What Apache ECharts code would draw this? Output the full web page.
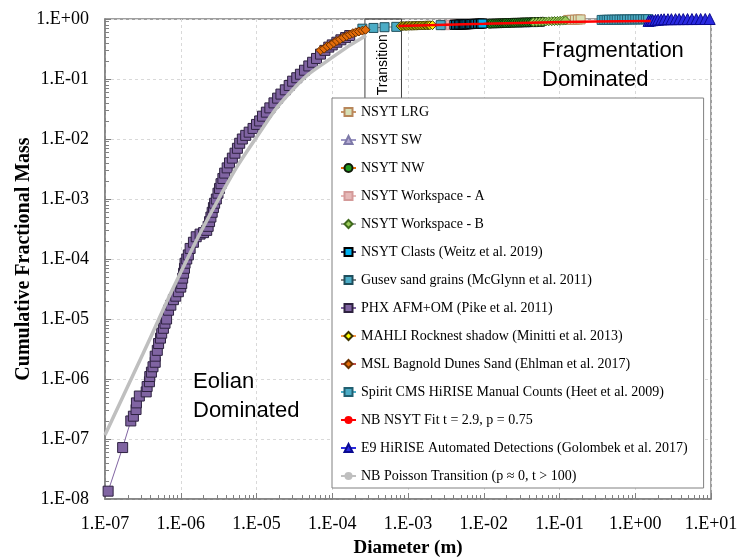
<!DOCTYPE html>
<html>
<head>
<meta charset="utf-8">
<script src="https://cdn.jsdelivr.net/npm/echarts@6/dist/echarts.min.js"></script>
<style>
  html, body { margin: 0; padding: 0; background: #fff; }
  #chart { width: 750px; height: 559px; }
</style>
</head>
<body>
<div id="chart"></div>
<script>
// [diameter (m), cumulative fractional mass]
const nsytLrg = [[0.13, 0.965], [0.145, 0.97], [0.16, 0.975], [0.175, 0.98], [0.19, 0.985]]
const nsytSw = [[2.0e-2, 0.87], [2.8e-2, 0.875], [3.6e-2, 0.88], [4.5e-2, 0.885], [5.5e-2, 0.89]]
const nsytNw = [
  [1.2e-2, 0.835], [1.3e-2, 0.84], [1.4e-2, 0.842], [1.5e-2, 0.845], [1.6e-2, 0.848],
  [1.7e-2, 0.85], [1.8e-2, 0.853], [1.9e-2, 0.856], [2.0e-2, 0.858], [2.15e-2, 0.86],
  [2.3e-2, 0.863], [2.45e-2, 0.866], [2.6e-2, 0.868], [2.8e-2, 0.87], [3.0e-2, 0.873],
  [3.2e-2, 0.876], [3.4e-2, 0.878], [3.65e-2, 0.88], [3.9e-2, 0.883], [4.2e-2, 0.886],
  [4.5e-2, 0.888], [4.8e-2, 0.89], [5.2e-2, 0.893], [5.6e-2, 0.896], [6.0e-2, 0.9]
]
const nsytWorkspaceA = [[3.1e-3, 0.79], [3.4e-3, 0.795], [3.7e-3, 0.8], [4.0e-3, 0.8]]
const nsytWorkspaceB = [
  [4.5e-2, 0.89], [5.0e-2, 0.895], [5.5e-2, 0.9], [6.0e-2, 0.905], [6.6e-2, 0.91],
  [7.2e-2, 0.915], [7.9e-2, 0.92], [8.6e-2, 0.925], [9.4e-2, 0.93], [0.102, 0.935],
  [0.11, 0.94], [0.12, 0.945]
]
const nsytClasts = [
  [4.1e-3, 0.8], [4.3e-3, 0.802], [4.5e-3, 0.805], [4.7e-3, 0.807], [4.9e-3, 0.81],
  [5.1e-3, 0.81], [5.3e-3, 0.812], [5.5e-3, 0.814], [5.7e-3, 0.815], [5.9e-3, 0.817],
  [6.1e-3, 0.82], [6.35e-3, 0.82], [6.6e-3, 0.822], [6.85e-3, 0.824], [7.1e-3, 0.825],
  [7.4e-3, 0.828], [7.7e-3, 0.83], [8.0e-3, 0.83], [8.4e-3, 0.833], [8.8e-3, 0.835],
  [9.2e-3, 0.837], [9.6e-3, 0.84]
]
const gusevSand = [[2.5e-4, 0.69], [3.5e-4, 0.71], [4.9e-4, 0.73], [7.0e-4, 0.74], [2.7e-3, 0.79]]
const phxAfmOm = [
  [1.1e-7, 1.35e-8], [1.71e-7, 7.2e-8], [2.19e-7, 2.0e-7], [2.37e-7, 2.4e-7], [2.57e-7, 3.1e-7],
  [2.6e-7, 4.0e-7], [2.84e-7, 5.2e-7], [3.5e-7, 6.1e-7], [3.6e-7, 7.5e-7], [3.86e-7, 9.0e-7],
  [3.9e-7, 1.1e-6], [4.1e-7, 1.3e-6], [4.3e-7, 1.6e-6], [4.6e-7, 1.9e-6], [4.6e-7, 2.4e-6],
  [4.9e-7, 3.0e-6], [5.1e-7, 3.9e-6], [5.4e-7, 4.8e-6], [5.6e-7, 5.8e-6], [5.9e-7, 7.0e-6],
  [6.2e-7, 8.5e-6], [6.5e-7, 1.0e-5], [6.9e-7, 1.4e-5], [7.4e-7, 1.7e-5], [8.0e-7, 2.1e-5],
  [8.6e-7, 2.4e-5], [9.3e-7, 2.85e-5], [1.0e-6, 3.4e-5], [1.03e-6, 3.9e-5], [1.06e-6, 4.8e-5],
  [1.09e-6, 5.8e-5], [1.12e-6, 7.0e-5], [1.14e-6, 8.5e-5], [1.2e-6, 1.0e-4], [1.26e-6, 1.17e-4],
  [1.33e-6, 1.5e-4], [1.47e-6, 1.9e-4], [1.6e-6, 2.35e-4], [1.8e-6, 2.6e-4], [2.0e-6, 2.75e-4],
  [2.2e-6, 3.0e-4], [2.3e-6, 3.5e-4], [2.4e-6, 4.2e-4], [2.5e-6, 5.0e-4], [2.6e-6, 6.0e-4],
  [2.7e-6, 7.2e-4], [2.8e-6, 8.5e-4], [2.95e-6, 1.0e-3], [3.1e-6, 1.25e-3], [3.25e-6, 1.5e-3],
  [3.4e-6, 1.8e-3], [3.6e-6, 2.2e-3], [3.8e-6, 2.7e-3], [4.1e-6, 3.3e-3], [4.4e-6, 4.0e-3],
  [4.8e-6, 4.8e-3], [5.2e-6, 5.8e-3], [5.6e-6, 7.0e-3], [6.0e-6, 8.5e-3], [6.5e-6, 1.0e-2],
  [7.2e-6, 1.15e-2], [8.0e-6, 1.3e-2], [9.0e-6, 1.5e-2], [1.0e-5, 1.75e-2], [1.1e-5, 2.0e-2],
  [1.2e-5, 2.4e-2], [1.35e-5, 2.8e-2], [1.5e-5, 3.3e-2], [1.7e-5, 4.0e-2], [1.9e-5, 4.8e-2],
  [2.1e-5, 5.6e-2], [2.4e-5, 6.6e-2], [2.7e-5, 7.8e-2], [3.0e-5, 9.2e-2], [3.4e-5, 0.105],
  [3.8e-5, 0.12], [4.3e-5, 0.14], [4.9e-5, 0.165], [5.5e-5, 0.19], [6.2e-5, 0.22],
  [7.0e-5, 0.26], [8.0e-5, 0.3], [9.0e-5, 0.34], [1.0e-4, 0.37], [1.15e-4, 0.41],
  [1.3e-4, 0.45], [1.5e-4, 0.49], [1.7e-4, 0.53]
]
const mahliRocknest = [
  [8.0e-4, 0.76], [8.4e-4, 0.762], [8.8e-4, 0.765], [9.2e-4, 0.765], [9.6e-4, 0.767],
  [1.0e-3, 0.768], [1.05e-3, 0.77], [1.1e-3, 0.77], [1.15e-3, 0.772], [1.2e-3, 0.773],
  [1.25e-3, 0.775], [1.31e-3, 0.775], [1.37e-3, 0.777], [1.43e-3, 0.778], [1.5e-3, 0.78],
  [1.57e-3, 0.78], [1.65e-3, 0.782], [1.72e-3, 0.783], [1.8e-3, 0.785], [1.87e-3, 0.785],
  [1.95e-3, 0.787], [2.1e-3, 0.79]
]
const mslBagnold = [
  [7.0e-5, 0.3], [7.8e-5, 0.32], [8.6e-5, 0.35], [9.5e-5, 0.37], [1.05e-4, 0.4],
  [1.15e-4, 0.43], [1.27e-4, 0.46], [1.4e-4, 0.49], [1.55e-4, 0.52], [1.7e-4, 0.55],
  [1.87e-4, 0.58], [2.05e-4, 0.6], [2.25e-4, 0.62], [2.5e-4, 0.64], [2.75e-4, 0.66]
]
const spiritCms = [
  [0.36, 0.965], [0.39, 0.967], [0.42, 0.969], [0.45, 0.97], [0.49, 0.972],
  [0.53, 0.974], [0.57, 0.975], [0.62, 0.977], [0.67, 0.978], [0.72, 0.98],
  [0.78, 0.981], [0.85, 0.983], [0.92, 0.984], [1.0, 0.986], [1.08, 0.987],
  [1.17, 0.988], [1.27, 0.99], [1.38, 0.991], [1.48, 0.992]
]
const nsytFit = [[7.5e-4, 0.765], [1.0e-2, 0.83], [4.2e-2, 0.87], [0.3, 0.91], [1.6, 0.93]]
const e9Hirise = [
  [1.5, 0.93], [1.6, 0.945], [1.7, 0.955], [1.85, 0.965], [2.0, 0.975],
  [2.2, 0.985], [2.4, 0.99], [2.7, 0.992], [3.0, 0.994], [3.4, 0.995],
  [3.8, 0.996], [4.3, 0.997], [4.9, 0.998], [5.6, 0.998], [6.4, 0.999],
  [7.3, 0.999], [8.4, 1.0], [9.6, 1.0]
]
const poissonTransition = [
  [1.0e-7, 1.17e-7], [3.16e-7, 2.6e-6], [1.0e-6, 6.0e-5], [3.16e-6, 1.0e-3],
  [1.0e-5, 1.07e-2], [3.16e-5, 7.1e-2], [1.0e-4, 0.23], [2.8e-4, 0.53]
]
const transitionRange = [2.7e-4, 8.2e-4]

function sci(v) {
  const e = Math.round(Math.log10(v))
  const a = Math.abs(e)
  return '1.E' + (e < 0 ? '-' : '+') + (a < 10 ? '0' + a : a)
}

function pointSeries(name, data, symbol, fill, border, line, size) {
  return {
    name, type: 'line', data, symbol, symbolSize: size || 9,
    itemStyle: { color: fill, borderColor: border, borderWidth: 1 },
    lineStyle: { color: line, width: 1 },
    emphasis: { disabled: true }
  }
}

const axisCommon = {
  type: 'log',
  logBase: 10,
  splitNumber: 8,
  axisLine: { lineStyle: { color: '#808080', width: 1.5 } },
  axisTick: { inside: true, length: 6, lineStyle: { color: '#808080' } },
  minorTick: { show: true, splitNumber: 9, length: 4, lineStyle: { color: '#808080' } },
  splitLine: { show: true, lineStyle: { color: '#d9d9d9', type: [3, 3] } },
  axisLabel: {
    formatter: sci,
    fontFamily: 'Liberation Serif',
    fontSize: 18,
    color: '#000',
    margin: 16
  },
  nameLocation: 'middle',
  nameMoveOverlap: false,
  nameTextStyle: { fontFamily: 'Liberation Serif', fontWeight: 'bold', fontSize: 19, color: '#000' }
}

const chart = echarts.init(document.getElementById('chart'))
chart.setOption({
  animation: false,
  grid: {
    left: 105, right: 39, top: 19, bottom: 60, outerBoundsMode: 'none',
    show: true, borderColor: '#808080', borderWidth: 1.5
  },
  xAxis: Object.assign({}, axisCommon, { min: 1e-7, max: 10, name: 'Diameter (m)', nameGap: 40 }),
  yAxis: Object.assign({}, axisCommon, {
    min: 1e-8, max: 1, name: 'Cumulative Fractional Mass', nameGap: 71,
    nameTextStyle: { fontFamily: 'Liberation Serif', fontWeight: 'bold', fontSize: 20, color: '#000' }
  }),
  legend: {
    orient: 'vertical',
    left: 332,
    top: 98,
    padding: [7, 16, 5, 8],
    itemGap: 14,
    itemWidth: 15,
    itemHeight: 10,
    backgroundColor: '#fff',
    borderColor: '#808080',
    borderWidth: 1,
    selectedMode: false,
    textStyle: { fontFamily: 'Liberation Serif', fontSize: 14, color: '#000' }
  },
  graphic: [
    {
      type: 'text', left: 542, top: 36, z: 10,
      style: { text: 'Fragmentation\nDominated', font: '22px "Liberation Sans"', lineHeight: 29, fill: '#000' }
    },
    {
      type: 'text', left: 193, top: 367, z: 10,
      style: { text: 'Eolian\nDominated', font: '22px "Liberation Sans"', lineHeight: 29, fill: '#000' }
    }
  ],
  series: [
    pointSeries('NSYT LRG', nsytLrg, 'rect', '#d7dfb6', '#b8865a', '#c8956a'),
    pointSeries('NSYT SW', nsytSw, 'triangle', '#b3a9d3', '#7d79a8', '#9d97c4'),
    pointSeries('NSYT NW', nsytNw, 'circle', '#1f9a1f', '#101a08', '#e46c0a'),
    pointSeries('NSYT Workspace - A', nsytWorkspaceA, 'rect', '#e6b9b8', '#d49a99', '#e6b9b8'),
    pointSeries('NSYT Workspace - B', nsytWorkspaceB, 'diamond', '#9bcb5a', '#3f6a1c', '#a6a6a6'),
    pointSeries('NSYT Clasts (Weitz et al. 2019)', nsytClasts, 'rect', '#00b0f0', '#000', '#403060'),
    pointSeries('Gusev sand grains (McGlynn et al. 2011)', gusevSand, 'rect', '#4bacc6', '#1f4e5c', '#7f7f7f'),
    pointSeries('PHX AFM+OM (Pike et al. 2011)', phxAfmOm, 'rect', '#8064a2', '#2e2240', '#8064a2', 10),
    pointSeries('MAHLI Rocknest shadow (Minitti et al. 2013)', mahliRocknest, 'diamond', '#ffff00', '#3c3200', '#f79646'),
    pointSeries('MSL Bagnold Dunes Sand (Ehlman et al. 2017)', mslBagnold, 'diamond', '#e46c0a', '#6a3000', '#c0504d'),
    pointSeries('Spirit CMS HiRISE Manual Counts (Heet et al. 2009)', spiritCms, 'rect', '#4bacc6', '#215f70', '#4bacc6'),
    {
      name: 'NB NSYT Fit t = 2.9, p = 0.75', type: 'line', data: nsytFit, smooth: true, z: 5,
      symbol: 'none', lineStyle: { color: '#ff0000', width: 2.5 }, itemStyle: { color: '#ff0000' }
    },
    pointSeries('E9 HiRISE Automated Detections (Golombek et al. 2017)', e9Hirise, 'triangle', '#2a2ae0', '#0a0a90', '#2a2ae0', 11),
    {
      name: 'NB Poisson Transition (p \u2248 0, t > 100)', type: 'line', data: poissonTransition, smooth: true, z: 4,
      symbol: 'none', lineStyle: { color: '#bfbfbf', width: 3.5 }, itemStyle: { color: '#bfbfbf' },
      markArea: {
        silent: true,
        itemStyle: { color: 'rgba(0,0,0,0)', borderColor: '#404040', borderWidth: 1 },
        label: {
          show: true, position: 'inside', rotate: 90,
          fontFamily: 'Liberation Sans', fontSize: 14, color: '#000'
        },
        data: [[
          { name: 'Transition', xAxis: transitionRange[0], yAxis: 1 },
          { xAxis: transitionRange[1], yAxis: 0.03 }
        ]]
      }
    }
  ]
})
</script>
</body>
</html>
